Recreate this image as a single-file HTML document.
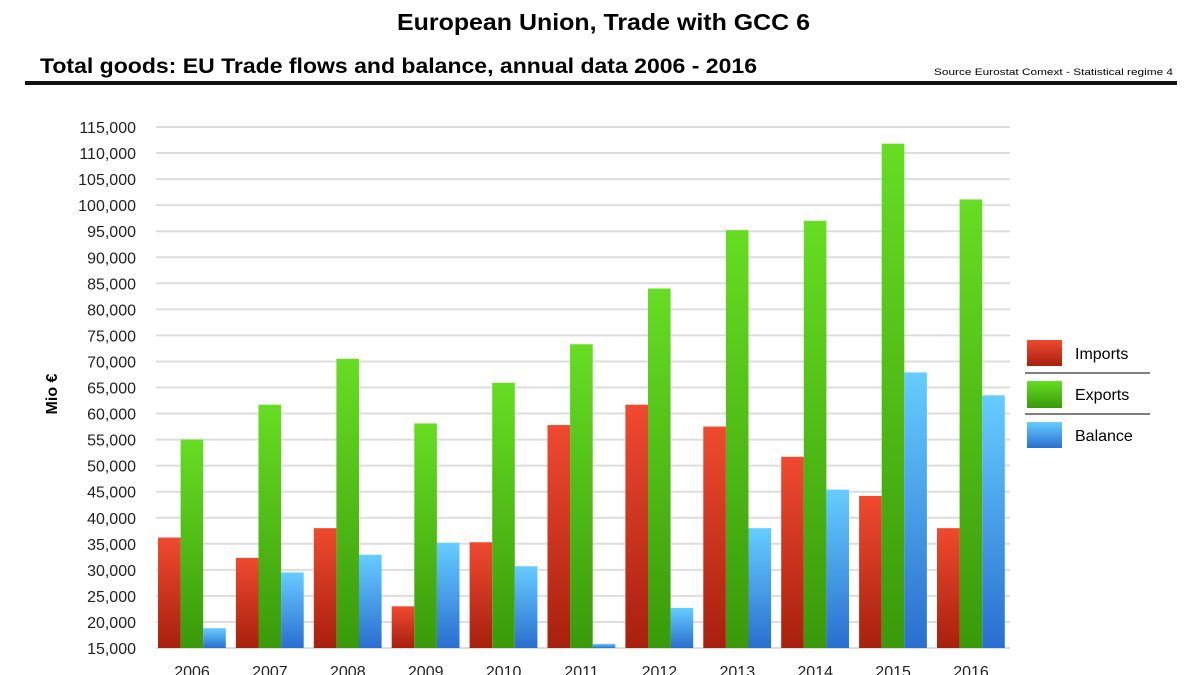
<!DOCTYPE html><html><head><meta charset="utf-8"><style>body{margin:0;background:#fff;font-family:"Liberation Sans",sans-serif}svg{display:block}</style></head><body>
<svg id="c" width="1200" height="675" xmlns="http://www.w3.org/2000/svg">
<defs>
<linearGradient id="gr" x1="0" y1="0" x2="0" y2="1"><stop offset="0" stop-color="#f04a30"/><stop offset="1" stop-color="#a8200e"/></linearGradient>
<linearGradient id="gg" x1="0" y1="0" x2="0" y2="1"><stop offset="0" stop-color="#66dd22"/><stop offset="1" stop-color="#3a9a0a"/></linearGradient>
<linearGradient id="gb" x1="0" y1="0" x2="0" y2="1"><stop offset="0" stop-color="#66ccff"/><stop offset="1" stop-color="#2a6fd0"/></linearGradient>
</defs>
<text x="397" y="30" font-size="23" font-weight="bold" textLength="413" lengthAdjust="spacingAndGlyphs">European Union, Trade with GCC 6</text>
<text x="40" y="73" font-size="21" font-weight="bold" textLength="717" lengthAdjust="spacingAndGlyphs">Total goods: EU Trade flows and balance, annual data 2006 - 2016</text>
<text x="934" y="75" font-size="9" textLength="239" lengthAdjust="spacingAndGlyphs">Source Eurostat Comext  - Statistical regime 4</text>
<rect x="25" y="81" width="1152" height="4" fill="#111"/>
<text transform="translate(57,394) rotate(-90)" text-anchor="middle" font-size="16" font-weight="bold">Mio €</text>
<g id="grid"></g><g id="bars"></g>
<g>
<rect x="1027" y="340" width="35" height="26" fill="url(#gr)"/>
<text x="1075" y="359" font-size="16">Imports</text>
<line x1="1025" y1="373" x2="1150" y2="373" stroke="#555" stroke-width="1.5"/>
<rect x="1027" y="381" width="35" height="27" fill="url(#gg)"/>
<text x="1075" y="400" font-size="16">Exports</text>
<line x1="1025" y1="414" x2="1150" y2="414" stroke="#555" stroke-width="1.5"/>
<rect x="1027" y="422" width="35" height="26" fill="url(#gb)"/>
<text x="1075" y="441" font-size="16">Balance</text>
</g>
</svg>
<script>
const years=["2006","2007","2008","2009","2010","2011","2012","2013","2014","2015","2016"];
const imports=[36.2,32.3,38.0,23.0,35.3,57.8,61.7,57.5,51.7,44.2,38.0];
const exports_=[55.0,61.7,70.5,58.1,65.9,73.3,84.0,95.2,97.0,111.8,101.1];
const balance=[18.8,29.5,32.9,35.2,30.7,15.8,22.7,38.0,45.4,67.9,63.5];
const ticks=[15,20,25,30,35,40,45,50,55,60,65,70,75,80,85,90,95,100,105,110,115];
const NS="http://www.w3.org/2000/svg";
const y=v=>648-(v-15)*5.21;
const x0=v=>158+v*77.9;
const grid=document.getElementById('grid'),bars=document.getElementById('bars');
function mk(tag,at,p){const e=document.createElementNS(NS,tag);for(const k in at)e.setAttribute(k,at[k]);p.appendChild(e);return e;}
ticks.forEach(t=>{
 const l=mk('line',{x1:156,x2:1010,y1:y(t),y2:y(t),stroke:'#ddd','stroke-width':2},grid);
 
 
 const tx=mk('text',{x:136,y:y(t)+6,'text-anchor':'end','font-size':16,fill:'#222'},grid);
 tx.textContent=t.toLocaleString('en-US')+',000';
 
 
});
const series=[[imports,'url(#gr)','imports'],[exports_,'url(#gg)','exports'],[balance,'url(#gb)','balance']];
years.forEach((yr,i)=>{
 series.forEach((s,j)=>{
  const v=s[0][i];
  const r=mk('rect',{x:x0(i)+j*22.6,y:y(v),width:22.6,height:648-y(v),fill:s[1]},bars);
  
  
 });
 const t=mk('text',{x:x0(i)+34,y:677,'text-anchor':'middle','font-size':16,fill:'#222'},bars);
 t.textContent=yr;
 
 
});
</script>
</body></html>
